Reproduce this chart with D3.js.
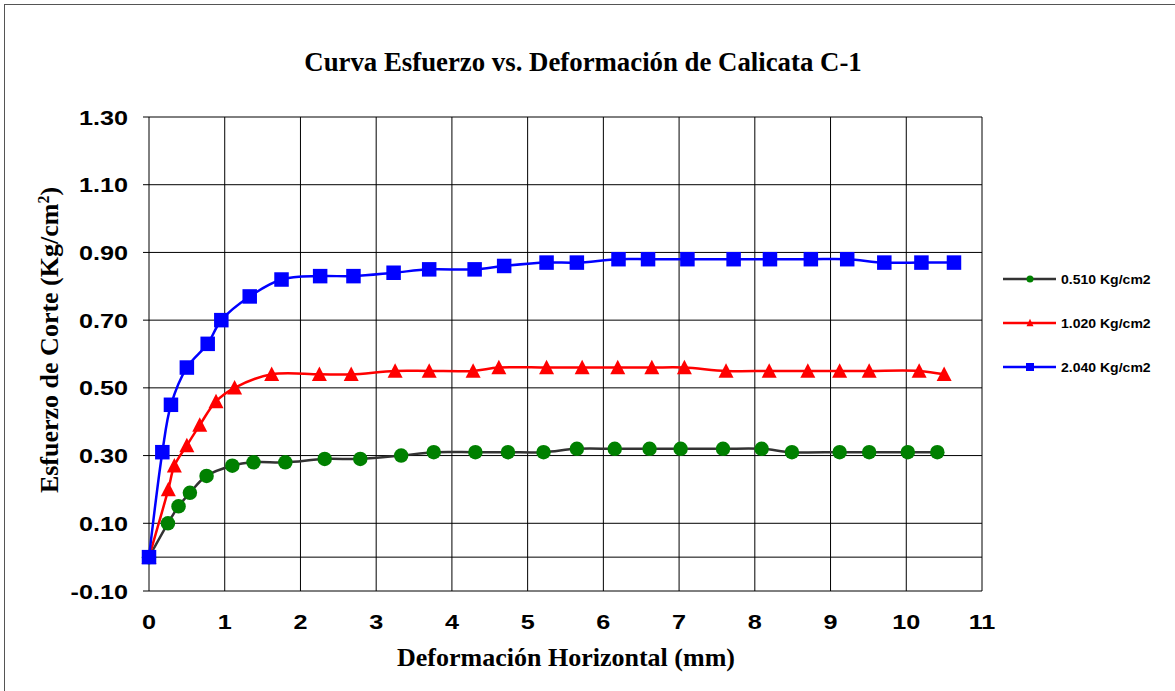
<!DOCTYPE html>
<html>
<head>
<meta charset="utf-8">
<script src="https://cdn.jsdelivr.net/npm/d3@7"></script>
<style>
  body { margin: 0; background: #fff; }
  .tick-label { font-family: Arial, "Liberation Sans", sans-serif; font-weight: bold; font-size: 21px; fill: #000; }
  .axis-title { font-family: "Times New Roman", "Liberation Serif", serif; font-weight: bold; font-size: 26px; fill: #000; }
  .legend-label { font-family: Arial, "Liberation Sans", sans-serif; font-weight: bold; font-size: 13px; fill: #000; }
</style>
</head>
<body>
<div id="chart"></div>
<script>
// deformation (mm) / shear stress (Kg/cm2)
var xLow = [0, 0.25, 0.39, 0.54, 0.76, 1.10, 1.38, 1.80, 2.32, 2.79, 3.33, 3.76, 4.31, 4.74, 5.21, 5.65, 6.15, 6.61, 7.02, 7.58, 8.09, 8.49, 9.12, 9.51, 10.02, 10.41];
var yLow = [0, 0.10, 0.15, 0.19, 0.24, 0.27, 0.28, 0.28, 0.29, 0.29, 0.30, 0.31, 0.31, 0.31, 0.31, 0.32, 0.32, 0.32, 0.32, 0.32, 0.32, 0.31, 0.31, 0.31, 0.31, 0.31];

var xMid = [0, 0.255, 0.335, 0.50, 0.67, 0.885, 1.13, 1.62, 2.25, 2.67, 3.25, 3.70, 4.28, 4.62, 5.25, 5.72, 6.19, 6.64, 7.07, 7.62, 8.19, 8.70, 9.12, 9.51, 10.17, 10.50];
var yMid = [0, 0.20, 0.27, 0.33, 0.39, 0.46, 0.50, 0.54, 0.54, 0.54, 0.55, 0.55, 0.55, 0.56, 0.56, 0.56, 0.56, 0.56, 0.56, 0.55, 0.55, 0.55, 0.55, 0.55, 0.55, 0.54];

var xHigh = [0, 0.176, 0.29, 0.50, 0.775, 0.955, 1.33, 1.75, 2.26, 2.70, 3.23, 3.70, 4.30, 4.69, 5.25, 5.65, 6.20, 6.59, 7.11, 7.72, 8.20, 8.74, 9.22, 9.71, 10.20, 10.63];
var yHigh = [0, 0.31, 0.45, 0.56, 0.63, 0.70, 0.77, 0.82, 0.83, 0.83, 0.84, 0.85, 0.85, 0.86, 0.87, 0.87, 0.88, 0.88, 0.88, 0.88, 0.88, 0.88, 0.88, 0.87, 0.87, 0.87];

var seriesNames = ["0.510 Kg/cm2", "1.020 Kg/cm2", "2.040 Kg/cm2"];
var xTicks = [0, 1, 2, 3, 4, 5, 6, 7, 8, 9, 10, 11];
var yTicks = [-0.10, 0.10, 0.30, 0.50, 0.70, 0.90, 1.10, 1.30];

var titleText = "Curva Esfuerzo vs. Deformación de Calicata C-1";
var xTitle = "Deformación Horizontal (mm)";

var series = [
  { name: seriesNames[0], xs: xLow, ys: yLow, line: "#333333", fill: "#008000", shape: "circle" },
  { name: seriesNames[1], xs: xMid, ys: yMid, line: "#ff0000", fill: "#ff0000", shape: "triangle" },
  { name: seriesNames[2], xs: xHigh, ys: yHigh, line: "#0000ff", fill: "#0000ff", shape: "square" }
];

var W = 1175, H = 691;
var plot = { left: 149, right: 982, top: 117, bottom: 591 };
var stretch = 1.2; // excel text here is drawn a bit wide

var svg = d3.select("#chart")
  .append("svg")
  .attr("width", W)
  .attr("height", H);

// outer chart border (right/bottom edges fall off the page)
svg.append("rect")
  .attr("x", 4.5)
  .attr("y", 4.5)
  .attr("width", W + 10)
  .attr("height", H + 10)
  .attr("fill", "#fff")
  .attr("stroke", "#555")
  .attr("stroke-width", 1);

var xScale = d3.scaleLinear()
  .domain([0, 11])
  .range([plot.left, plot.right]);

var yScale = d3.scaleLinear()
  .domain([-0.1, 1.3])
  .range([plot.bottom, plot.top]);

// gridlines
svg.append("g")
  .selectAll("line.vgrid")
  .data(xTicks)
  .enter()
  .append("line")
  .attr("x1", function(d) { return xScale(d); })
  .attr("x2", function(d) { return xScale(d); })
  .attr("y1", plot.top)
  .attr("y2", plot.bottom)
  .attr("stroke", "#000")
  .attr("stroke-width", 1);

svg.append("g")
  .selectAll("line.hgrid")
  .data(yTicks)
  .enter()
  .append("line")
  .attr("x1", plot.left - 6)
  .attr("x2", plot.right)
  .attr("y1", function(d) { return yScale(d); })
  .attr("y2", function(d) { return yScale(d); })
  .attr("stroke", "#000")
  .attr("stroke-width", 1);

// horizontal axis crosses at 0
svg.append("line")
  .attr("x1", plot.left)
  .attr("x2", plot.right)
  .attr("y1", yScale(0))
  .attr("y2", yScale(0))
  .attr("stroke", "#000")
  .attr("stroke-width", 1);

// tick labels
svg.append("g")
  .selectAll("text")
  .data(yTicks)
  .enter()
  .append("text")
  .attr("class", "tick-label")
  .attr("text-anchor", "end")
  .attr("transform", function(d) {
    return "translate(128," + (yScale(d) + 7.5) + ") scale(" + stretch + ",1)";
  })
  .text(function(d) { return d.toFixed(2); });

svg.append("g")
  .selectAll("text")
  .data(xTicks)
  .enter()
  .append("text")
  .attr("class", "tick-label")
  .attr("text-anchor", "middle")
  .attr("transform", function(d) {
    return "translate(" + xScale(d) + ",628.5) scale(" + stretch + ",1)";
  })
  .text(function(d) { return d; });

// titles
svg.append("text")
  .attr("class", "axis-title")
  .attr("text-anchor", "middle")
  .style("font-size", "26.8px")
  .attr("x", 583)
  .attr("y", 71)
  .text(titleText);

svg.append("text")
  .attr("class", "axis-title")
  .attr("text-anchor", "middle")
  .attr("x", 566)
  .attr("y", 666)
  .text(xTitle);

var yTitle = svg.append("text")
  .attr("class", "axis-title")
  .attr("text-anchor", "middle")
  .attr("transform", "translate(58,340) rotate(-90)");
yTitle.append("tspan").text("Esfuerzo de Corte (Kg/cm");
yTitle.append("tspan").attr("dy", -9).style("font-size", "16px").text("2");
yTitle.append("tspan").attr("dy", 9).text(")");

// markers
function drawMarker(g, shape, cx, cy, size, color) {
  if (shape === "circle") {
    g.append("circle").attr("cx", cx).attr("cy", cy).attr("r", size / 2).attr("fill", color);
  } else if (shape === "square") {
    g.append("rect").attr("x", cx - size / 2).attr("y", cy - size / 2)
      .attr("width", size).attr("height", size).attr("fill", color);
  } else {
    var h = size * 0.9;
    g.append("path")
      .attr("d", "M" + cx + "," + (cy - h / 2 - 1) + "L" + (cx + size / 2) + "," + (cy + h / 2) + "L" + (cx - size / 2) + "," + (cy + h / 2) + "Z")
      .attr("fill", color);
  }
}

var line = d3.line()
  .x(function(d) { return xScale(d[0]); })
  .y(function(d) { return yScale(d[1]); })
  .curve(d3.curveCatmullRom.alpha(0.5));

series.forEach(function(s) {
  var pts = s.xs.map(function(x, i) { return [x, s.ys[i]]; });
  var g = svg.append("g");
  g.append("path")
    .attr("d", line(pts))
    .attr("fill", "none")
    .attr("stroke", s.line)
    .attr("stroke-width", 2.5);
  pts.forEach(function(p) {
    drawMarker(g, s.shape, xScale(p[0]), yScale(p[1]), s.shape === "triangle" ? 15 : 14.5, s.fill);
  });
});

// legend
var legend = svg.append("g");
series.forEach(function(s, i) {
  var ly = 279 + i * 44;
  legend.append("line")
    .attr("x1", 1003)
    .attr("x2", 1056)
    .attr("y1", ly)
    .attr("y2", ly)
    .attr("stroke", s.line)
    .attr("stroke-width", 2.5);
  drawMarker(legend, s.shape, 1030, ly, s.shape === "square" ? 8 : 7, s.fill);
  legend.append("text")
    .attr("class", "legend-label")
    .attr("transform", "translate(1061," + (ly + 5) + ") scale(1.08,1)")
    .text(s.name);
});
</script>
</body>
</html>
